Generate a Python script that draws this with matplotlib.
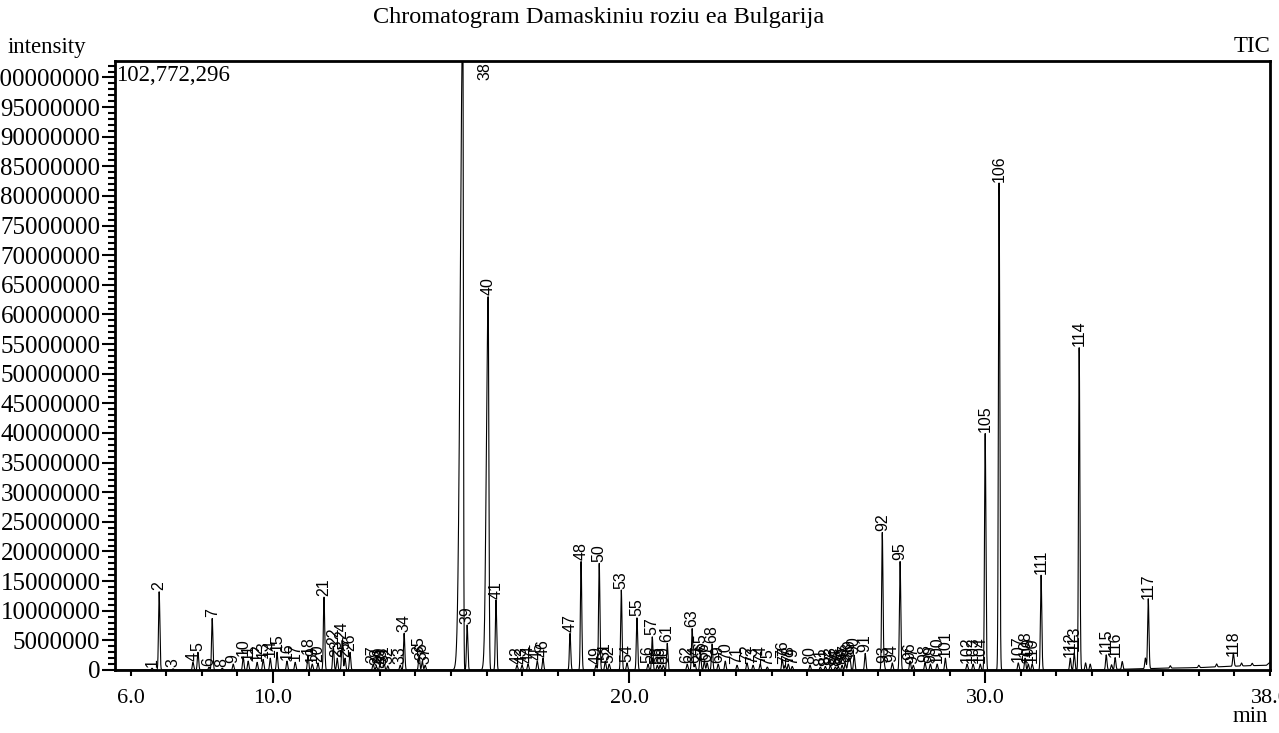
import numpy as np
import matplotlib
matplotlib.use("Agg")
import matplotlib.pyplot as plt
from matplotlib.ticker import MultipleLocator, FuncFormatter

plt.rcParams["font.family"] = ["Liberation Serif", "DejaVu Serif"]

# peak table: retention time (min), top intensity (millions)
peak_rt = [
    6.60, 6.80, 7.19, 7.75, 7.89, 8.20, 8.29, 8.57, 8.88, 9.16,
    9.30, 9.55, 9.72, 9.92, 10.11, 10.39, 10.62, 10.98, 11.10, 11.26,
    11.43, 11.69, 11.80, 11.94, 12.02, 12.16, 12.81, 12.90, 13.00, 13.06,
    13.12, 13.22, 13.57, 13.68, 14.10, 14.19, 14.27, 15.33, 15.45, 16.04,
    16.26, 16.85, 16.99, 17.16, 17.42, 17.58, 18.34, 18.65, 19.07, 19.16,
    19.33, 19.44, 19.78, 19.94, 20.22, 20.53, 20.65, 20.79, 20.87, 20.96,
    21.07, 21.63, 21.77, 21.85, 22.00, 22.11, 22.19, 22.33, 22.50, 22.70,
    23.03, 23.31, 23.48, 23.68, 23.88, 24.30, 24.38, 24.47, 24.58, 25.08,
    25.37, 25.51, 25.65, 25.79, 25.87, 25.98, 26.07, 26.15, 26.20, 26.32,
    26.63, 27.11, 27.16, 27.39, 27.61, 27.89, 27.98, 28.31, 28.46, 28.65,
    28.88, 29.49, 29.66, 29.86, 30.00, 30.39, 30.93, 31.12, 31.21, 31.32,
    31.57, 32.39, 32.50, 32.64, 33.40, 33.65, 34.58, 36.97,
]
peak_height = [
    0.3, 13.2, 0.2, 1.3, 3.0, 0.5, 8.7, 0.3, 1.0, 2.2,
    1.5, 1.3, 1.8, 2.0, 3.0, 1.5, 1.3, 2.5, 1.0, 1.2,
    12.3, 4.0, 2.0, 5.0, 2.0, 3.0, 1.0, 0.6, 0.8, 0.5,
    1.0, 0.7, 0.8, 6.2, 2.5, 1.5, 0.8, 110.0, 7.6, 63.0,
    11.8, 0.8, 0.8, 1.0, 1.5, 2.0, 6.2, 18.3, 0.8, 18.0,
    1.5, 1.0, 13.5, 1.2, 8.8, 1.0, 5.6, 0.8, 0.8, 0.8,
    4.5, 1.0, 7.0, 1.0, 3.0, 1.5, 1.2, 4.4, 1.0, 1.5,
    0.8, 1.2, 0.8, 1.0, 0.5, 1.8, 0.8, 1.0, 0.6, 0.8,
    0.5, 0.6, 0.8, 0.5, 0.6, 0.8, 1.2, 1.5, 2.0, 2.5,
    2.8, 23.2, 1.0, 1.2, 18.3, 1.5, 0.8, 1.2, 1.0, 1.0,
    2.0, 1.0, 1.0, 1.0, 39.9, 82.2, 1.2, 2.0, 1.0, 1.0,
    16.0, 2.0, 2.9, 54.4, 2.5, 2.0, 11.8, 2.2,
]

# small unlabelled peaks near the end of the run
minor_rt = [32.82, 32.95, 33.55, 33.85, 34.50, 35.20, 36.00, 36.50, 37.20, 37.50]
minor_height = [1.2, 1.0, 0.8, 1.3, 1.8, 0.4, 0.4, 0.5, 0.5, 0.4]

# drifting baseline at the end of the run
base_rt = [5.56, 33.0, 34.0, 35.0, 36.0, 36.8, 37.3, 37.9, 38.0]
base_level = [0.0, 0.0, 0.15, 0.3, 0.4, 0.6, 0.7, 0.8, 1.3]

max_intensity = 102772296
scale = 1e6

# overloaded peaks are fronting: (left sigma, right sigma) in minutes
wide_peaks = {38: (0.07, 0.015), 40: (0.05, 0.02)}

t = np.linspace(5.56, 38.0, 30000)
trace = np.interp(t, base_rt, base_level)
for i, (rt, h) in enumerate(zip(peak_rt, peak_height)):
    sl, sr = wide_peaks.get(i + 1, (0.018, 0.02))
    s = np.where(t < rt, sl, sr)
    trace = trace + h * np.exp(-0.5 * ((t - rt) / s) ** 2)
for rt, h in zip(minor_rt, minor_height):
    trace = trace + h * np.exp(-0.5 * ((t - rt) / 0.018) ** 2)
trace = trace * scale

fig = plt.figure(figsize=(12.79, 7.33), dpi=100)
ax = fig.add_axes([115 / 1279, 1 - 670 / 733, 1155 / 1279, 609 / 733])
ax.plot(t, trace, color="black", lw=0.8)
ax.set_xlim(5.56, 38.0)
ax.set_ylim(0, max_intensity)

for sp in ax.spines.values():
    sp.set_linewidth(2)

# y axis: labels every 5M, ruler ticks every 1M
ax.yaxis.set_major_locator(MultipleLocator(5e6))
ax.yaxis.set_minor_locator(MultipleLocator(1e6))
ax.yaxis.set_major_formatter(FuncFormatter(lambda v, p: "%d" % round(v)))
ax.tick_params(axis="y", which="major", length=9.5, width=1.5, labelsize=18, pad=1)
ax.tick_params(axis="y", which="minor", length=5, width=1.5)

# x axis
ax.set_xticks([6.0, 10.0, 20.0, 30.0, 38.0])
ax.set_xticklabels(["6.0", "10.0", "20.0", "30.0", "38.0"])
ax.xaxis.set_minor_locator(MultipleLocator(1.0))
ax.tick_params(axis="x", which="major", length=9, width=1.5, labelsize=16, pad=5)
ax.tick_params(axis="x", which="minor", length=4, width=1.5)
xt = ax.xaxis.get_major_ticks()
for k in (0, 4):
    xt[k].tick1line.set_markersize(4)

# peak numbers
for i, (rt, h) in enumerate(zip(peak_rt, peak_height)):
    num = i + 1
    if h * scale > max_intensity:
        ax.annotate(str(num), (rt + 0.63, max_intensity), xytext=(0, -1),
                    textcoords="offset points", rotation=90, ha="center",
                    va="top", fontsize=11.5, family="Liberation Sans")
    else:
        ax.annotate(str(num), (rt, h * scale), xytext=(0, 1),
                    textcoords="offset points", rotation=90, ha="center",
                    va="bottom", fontsize=11.5, family="Liberation Sans",
                    annotation_clip=False)

ax.annotate("{:,}".format(max_intensity), (0, 1), xycoords="axes fraction",
            xytext=(1, -3), textcoords="offset points", ha="left", va="top",
            fontsize=16.5)

fig.text(599 / 1279, 1 - 18 / 733, "Chromatogram Damaskiniu roziu ea Bulgarija",
         ha="center", va="center", fontsize=17.5)
fig.text(8 / 1279, 1 - 47 / 733, "intensity", ha="left", va="center", fontsize=16.5)
fig.text(1270 / 1279, 1 - 47 / 733, "TIC", ha="right", va="center", fontsize=16.5)
fig.text(1268 / 1279, 1 - 717 / 733, "min", ha="right", va="center", fontsize=16.5)

fig.savefig("out.png", dpi=100)
